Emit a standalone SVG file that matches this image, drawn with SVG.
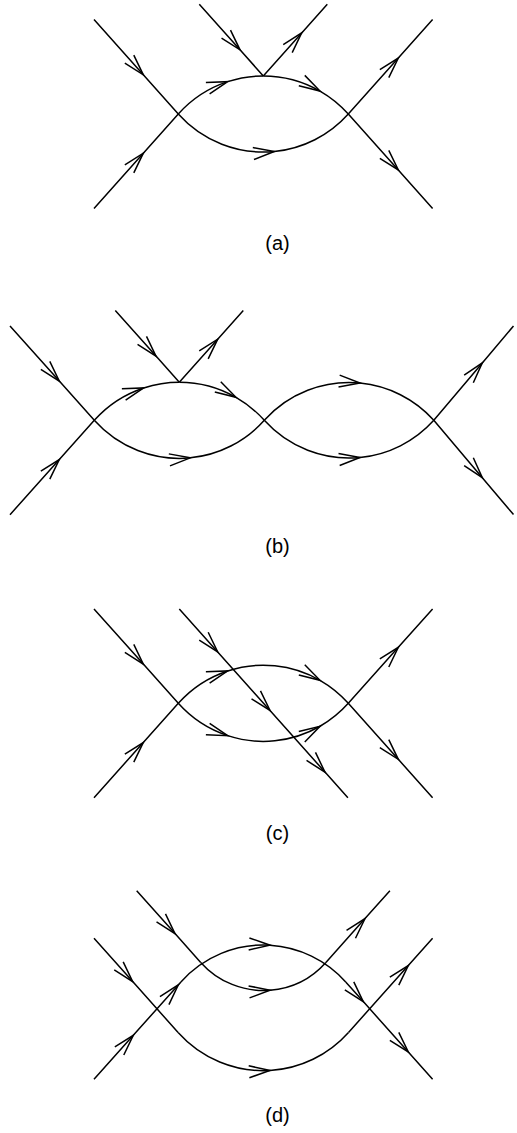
<svg xmlns="http://www.w3.org/2000/svg" width="517" height="1133" viewBox="0 0 517 1133">
<style>
.ln{fill:none;stroke:#000;stroke-width:1.5;stroke-linejoin:round;marker-mid:url(#arr)}
.lbl{font-family:"Liberation Sans",Arial,sans-serif;font-size:20px;text-anchor:middle;fill:#000}
</style>
<defs>
<marker id="arr" markerUnits="userSpaceOnUse" orient="auto" refX="0" refY="0" markerWidth="30" markerHeight="20" overflow="visible">
<path d="M-21,-6 L0,0 L-21,6" fill="none" stroke="#000" stroke-width="1.5" stroke-linejoin="miter"/>
</marker>
</defs>
<rect width="517" height="1133" fill="#fff"/>

<g id="panel-a">
<g id="connectors-a">
<path class="ln" d="M94,19.6 L143.3,74.8 L178.3,114"/>
<path class="ln" d="M94,208.4 L143.3,153.2 L178.3,114"/>
<path class="ln" d="M178.3,114 A114,114 0 0 1 227.7,81.64 A114,114 0 0 1 263.3,75.94"/>
<path class="ln" d="M263.3,75.94 A114,114 0 0 1 320,91.04 A114,114 0 0 1 348.3,114"/>
<path class="ln" d="M178.3,114 A114,114 0 0 0 274.3,151.53 A114,114 0 0 0 348.3,114"/>
<path class="ln" d="M348.3,114 L398.3,58 L432.6,19.6"/>
<path class="ln" d="M348.3,114 L398.3,170 L432.6,208.4"/>
<path class="ln" d="M199.3,4.2 L240,49.8 L263.3,75.94"/>
<path class="ln" d="M263.3,75.94 L301.7,32.9 L327.3,4.2"/>
</g>
<text id="label-a" class="lbl" x="277.5" y="250">(a)</text>
</g>

<g id="panel-b">
<g id="connectors-b">
<path class="ln" d="M10,325.9 L59.3,381.1 L94.3,420.3"/>
<path class="ln" d="M10,514.7 L59.3,459.5 L94.3,420.3"/>
<path class="ln" d="M94.3,420.3 A114,114 0 0 1 143.7,387.94 A114,114 0 0 1 179.3,382.24"/>
<path class="ln" d="M179.3,382.24 A114,114 0 0 1 236,397.34 A114,114 0 0 1 264.3,420.3"/>
<path class="ln" d="M94.3,420.3 A114,114 0 0 0 190.3,457.83 A114,114 0 0 0 264.3,420.3"/>
<path class="ln" d="M115.3,310.5 L156,356.1 L179.3,382.24"/>
<path class="ln" d="M179.3,382.24 L217.7,339.2 L243.3,310.5"/>
<path class="ln" d="M264.3,420.3 A114,114 0 0 1 360,383.08 A114,114 0 0 1 433.8,420.3"/>
<path class="ln" d="M264.3,420.3 A114,114 0 0 0 360,457.52 A114,114 0 0 0 433.8,420.3"/>
<path class="ln" d="M433.8,420.3 L482.3,362.9 L513.5,326"/>
<path class="ln" d="M433.8,420.3 L482.3,477.7 L513.5,514.6"/>
</g>
<text id="label-b" class="lbl" x="277.5" y="553">(b)</text>
</g>

<g id="panel-c">
<g id="connectors-c">
<path class="ln" d="M94,608.9 L143.3,664.1 L178.3,703.3"/>
<path class="ln" d="M94,797.7 L143.3,742.5 L178.3,703.3"/>
<path class="ln" d="M178.3,703.3 A114,114 0 0 1 227.7,670.94 A114,114 0 0 1 320,680.34 A114,114 0 0 1 348.3,703.3"/>
<path class="ln" d="M178.3,703.3 A114,114 0 0 0 227.7,735.66 A114,114 0 0 0 320,726.26 A114,114 0 0 0 348.3,703.3"/>
<path class="ln" d="M348.3,703.3 L398.3,647.3 L432.6,608.9"/>
<path class="ln" d="M348.3,703.3 L398.3,759.3 L432.6,797.7"/>
<path class="ln" d="M179.3,608.9 L217.7,651.9 L270,710.5 L325,772.1 L347.9,797.7"/>
</g>
<text id="label-c" class="lbl" x="277.5" y="840">(c)</text>
</g>

<g id="panel-d">
<g id="connectors-d">
<path class="ln" d="M94,938.3 L132.7,981.6 L178.1,1032.5"/>
<path class="ln" d="M178.1,1032.5 A114.4,114.4 0 0 0 270,1070.5 A114.4,114.4 0 0 0 348.5,1032.5"/>
<path class="ln" d="M348.5,1032.5 L408.3,965.5 L432.6,938.3"/>
<path class="ln" d="M94,1079.3 L133.3,1035.3 L178.3,984.9 L180.9,981.9"/>
<path class="ln" d="M180.9,981.9 A110.6,110.6 0 0 1 270,945.2 A110.6,110.6 0 0 1 345.7,981.9"/>
<path class="ln" d="M345.7,981.9 L363.3,1001.6 L408.3,1052 L432.6,1079.2"/>
<path class="ln" d="M136.7,890.7 L175,933.6 L200.7,962.4"/>
<path class="ln" d="M200.7,962.4 A84,84 0 0 0 270,990.2 A84,84 0 0 0 325.9,962.4"/>
<path class="ln" d="M325.9,962.4 L365,918.6 L389.9,890.7"/>
</g>
<text id="label-d" class="lbl" x="277.5" y="1122">(d)</text>
</g>
</svg>
